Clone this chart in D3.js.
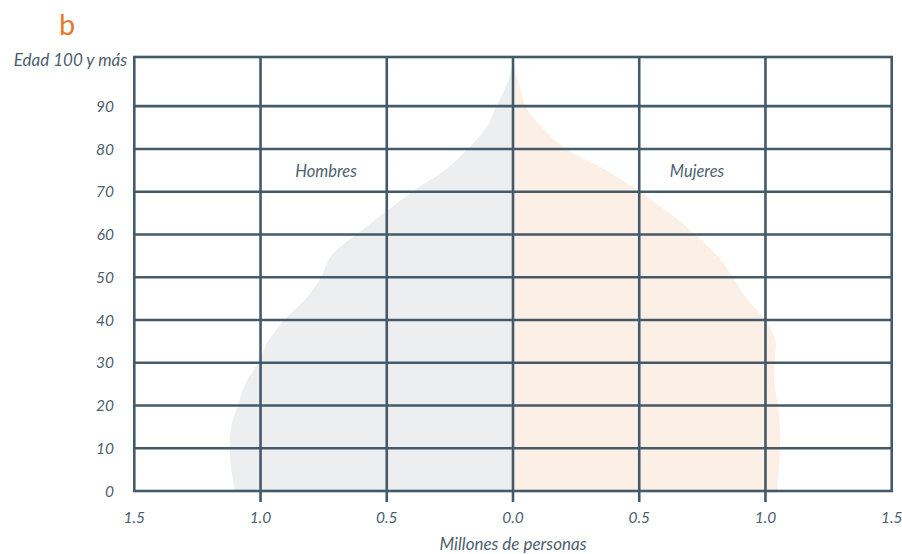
<!DOCTYPE html>
<html>
<head>
<meta charset="utf-8">
<script src="https://cdn.jsdelivr.net/npm/d3@7"></script>
<style>
  body { margin: 0; background: #fff; }
  text { font-family: Lato, "Open Sans", sans-serif; font-style: italic; fill: #4d5f6e; }
</style>
</head>
<body>
<svg id="chart" width="902" height="554"></svg>
<script>
// edades (años) y población (millones de personas)
const ages    = [0, 5, 10, 15, 20, 25, 30, 35, 40, 45, 50, 55, 60, 65, 70, 75, 80, 85, 90, 95, 100];
const hombres = [1.10, 1.116, 1.122, 1.116, 1.09, 1.06, 1.01, 0.97, 0.905, 0.82, 0.76, 0.72, 0.62, 0.51, 0.40, 0.27, 0.18, 0.105, 0.066, 0.025, 0];
const mujeres = [1.045, 1.053, 1.057, 1.057, 1.05, 1.035, 1.035, 1.04, 1.0, 0.925, 0.87, 0.81, 0.72, 0.62, 0.50, 0.37, 0.21, 0.115, 0.05, 0.025, 0];
const xTicks = [-1.5, -1.0, -0.5, 0, 0.5, 1.0, 1.5];
const yTicks = [0, 10, 20, 30, 40, 50, 60, 70, 80, 90];

const svg = d3.select("#chart");
const mLeft = 134.3, mRight = 891.7, mTop = 57, mBottom = 491;

const x = d3.scaleLinear().domain([-1.5, 1.5]).range([mLeft, mRight]);
const y = d3.scaleLinear().domain([0, 101.5]).range([mBottom, mTop]);

const grid = "#455a68";

let men = ages.map((a, i) => ({age: a, v: hombres[i]}));
let women = ages.map((a, i) => ({age: a, v: mujeres[i]}));

const areaMen = d3.area()
    .curve(d3.curveCatmullRom)
    .y(d => y(d.age))
    .x0(x(0))
    .x1(d => x(-d.v));
const areaWomen = d3.area()
    .curve(d3.curveCatmullRom)
    .y(d => y(d.age))
    .x0(x(0))
    .x1(d => x(d.v));

svg.append("path").datum(men).attr("d", areaMen).attr("fill", "#eceef0");
svg.append("path").datum(women).attr("d", areaWomen).attr("fill", "#fbefe6");

// lineas horizontales
svg.append("g").selectAll("line")
  .data(yTicks.slice(1))
  .enter().append("line")
    .attr("x1", mLeft).attr("x2", mRight)
    .attr("y1", d => y(d)).attr("y2", d => y(d))
    .attr("stroke", grid).attr("stroke-width", 2.6);

// lineas verticales interiores (con marca hacia abajo)
svg.append("g").selectAll("line")
  .data(xTicks.slice(1, -1))
  .enter().append("line")
    .attr("x1", d => x(d)).attr("x2", d => x(d))
    .attr("y1", mTop).attr("y2", mBottom + 11)
    .attr("stroke", grid).attr("stroke-width", 2.6);

// marco
svg.append("rect")
    .attr("x", mLeft).attr("y", mTop)
    .attr("width", mRight - mLeft).attr("height", mBottom - mTop)
    .attr("fill", "none").attr("stroke", grid).attr("stroke-width", 2.6);

// etiquetas eje x
svg.append("g").selectAll("text")
  .data(xTicks)
  .enter().append("text")
    .attr("x", d => x(d))
    .attr("y", 523)
    .attr("text-anchor", "middle")
    .attr("font-size", 15.5)
    .text(d => Math.abs(d).toFixed(1));

// etiquetas eje y
svg.append("g").selectAll("text")
  .data(yTicks)
  .enter().append("text")
    .attr("x", 114)
    .attr("y", d => y(d))
    .attr("dy", "0.36em")
    .attr("text-anchor", "end")
    .attr("font-size", 15.5)
    .text(d => d);

svg.append("text")
    .attr("x", 127).attr("y", mTop + 3)
    .attr("dy", "0.36em")
    .attr("text-anchor", "end")
    .attr("font-size", 17)
    .text("Edad 100 y más");

svg.append("text")
    .attr("x", x(0)).attr("y", 550)
    .attr("text-anchor", "middle")
    .attr("font-size", 17)
    .text("Millones de personas");

svg.append("text")
    .attr("x", 326).attr("y", 171)
    .attr("dy", "0.36em")
    .attr("text-anchor", "middle")
    .attr("font-size", 16.5)
    .text("Hombres");

svg.append("text")
    .attr("x", 697).attr("y", 171)
    .attr("dy", "0.36em")
    .attr("text-anchor", "middle")
    .attr("font-size", 16.5)
    .text("Mujeres");

svg.append("text")
    .attr("x", 67).attr("y", 35)
    .attr("text-anchor", "middle")
    .attr("font-size", 29)
    .style("font-style", "normal")
    .style("fill", "#e8782a")
    .text("b");
</script>
</body>
</html>
